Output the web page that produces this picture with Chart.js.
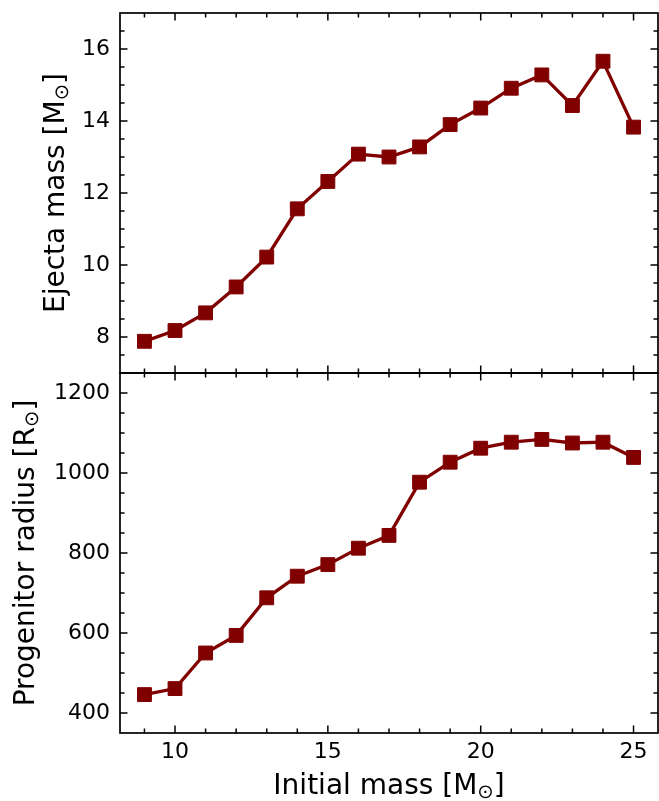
<!DOCTYPE html>
<html>
<head>
<meta charset="utf-8">
<script src="https://cdn.jsdelivr.net/npm/chart.js@4.4.1/dist/chart.umd.min.js"></script>
<style>
  html, body { margin: 0; padding: 0; background: #fff; }
  #wrap { position: relative; width: 659px; height: 801px; }
  #wrap canvas { position: absolute; left: 0; top: 0; }
</style>
</head>
<body>
<div id="wrap">
  <canvas id="ejectaChart" width="659" height="801"></canvas>
  <canvas id="radiusChart" width="659" height="801"></canvas>
</div>
<script>
// values
const initialMass = [9, 10, 11, 12, 13, 14, 15, 16, 17, 18, 19, 20, 21, 22, 23, 24, 25];
const ejectaMass = [7.88, 8.18, 8.67, 9.39, 10.22, 11.56, 12.32, 13.08, 13.0, 13.28, 13.9, 14.36, 14.91, 15.28, 14.43, 15.66, 13.83];
const progenitorRadius = [446, 461, 550, 594, 688, 742, 771, 812, 844, 977, 1027, 1062, 1077, 1084, 1075, 1077, 1039];

const massTicks = [10, 15, 20, 25];
const ejectaTicks = [8, 10, 12, 14, 16];
const radiusTicks = [400, 600, 800, 1000, 1200];

const FONT = "'DejaVu Sans', sans-serif";
const LINE_COLOR = '#800000';

function minorsBetween(from, to, step, majors) {
    const out = [];
    for (let v = from; v <= to + 1e-9; v += step) {
        const r = Math.round(v * 100) / 100;
        if (!majors.includes(r)) out.push(r);
    }
    return out;
}

// scales must not push the plot area around
function noPadding(s) {
    s.paddingTop = 0;
    s.paddingBottom = 0;
    s.paddingLeft = 0;
    s.paddingRight = 0;
}

// inward ticks on all four sides + the box
const frameTicks = {
    id: 'frameTicks',
    afterDraw(chart, args, opts) {
        const { ctx, chartArea: a, scales } = chart;
        const xs = scales.x, ys = scales.y;
        ctx.save();
        ctx.strokeStyle = '#000';
        ctx.lineWidth = 1.5;
        const drawX = (vals, len) => vals.forEach(v => {
            const px = xs.getPixelForValue(v);
            ctx.beginPath();
            ctx.moveTo(px, a.bottom); ctx.lineTo(px, a.bottom - len);
            ctx.moveTo(px, a.top); ctx.lineTo(px, a.top + len);
            ctx.stroke();
        });
        const drawY = (vals, len) => vals.forEach(v => {
            const py = ys.getPixelForValue(v);
            ctx.beginPath();
            ctx.moveTo(a.left, py); ctx.lineTo(a.left + len, py);
            ctx.moveTo(a.right, py); ctx.lineTo(a.right - len, py);
            ctx.stroke();
        });
        drawX(opts.xMajor, 7.5);
        drawX(opts.xMinor, 4.5);
        drawY(opts.yMajor, 7.5);
        drawY(opts.yMinor, 4.5);
        ctx.lineWidth = 1.7;
        ctx.strokeRect(a.left, a.top, a.right - a.left, a.bottom - a.top);
        ctx.restore();
    }
};

// axis titles with a small sun-symbol subscript
function drawSubLabel(ctx, x, y, rot, main, sub, tail, size) {
    const subSize = size * 0.7;
    ctx.save();
    ctx.translate(x, y);
    ctx.rotate(rot);
    ctx.fillStyle = '#000';
    ctx.textBaseline = 'alphabetic';
    ctx.textAlign = 'left';
    ctx.font = size + 'px ' + FONT;
    const w1 = ctx.measureText(main).width;
    const w3 = ctx.measureText(tail).width;
    ctx.font = subSize + 'px ' + FONT;
    const w2 = ctx.measureText(sub).width;
    let cx = -(w1 + w2 + w3) / 2;
    ctx.font = size + 'px ' + FONT;
    ctx.fillText(main, cx, 0);
    cx += w1;
    ctx.font = subSize + 'px ' + FONT;
    ctx.fillText(sub, cx, size * 0.17);
    cx += w2;
    ctx.font = size + 'px ' + FONT;
    ctx.fillText(tail, cx, 0);
    ctx.restore();
}

const axisTitles = {
    id: 'axisTitles',
    afterDraw(chart, args, opts) {
        const a = chart.chartArea;
        const ctx = chart.ctx;
        if (opts.y) {
            drawSubLabel(ctx, opts.y.baseX, (a.top + a.bottom) / 2, -Math.PI / 2,
                opts.y.main, '\u2299', ']', 28);
        }
        if (opts.x) {
            drawSubLabel(ctx, (a.left + a.right) / 2, opts.x.baseY, 0,
                opts.x.main, '\u2299', ']', 28);
        }
    }
};

function lineDataset(values) {
    return {
        data: initialMass.map((m, i) => ({ x: m, y: values[i] })),
        borderColor: LINE_COLOR,
        backgroundColor: LINE_COLOR,
        borderWidth: 3.3,
        pointStyle: 'rect',
        pointRadius: 9.8,
        pointBorderWidth: 1,
        pointBorderColor: LINE_COLOR,
        pointBackgroundColor: LINE_COLOR,
        tension: 0,
        clip: false
    };
}

function yAxis(min, max, ticks) {
    return {
        type: 'linear',
        min: min,
        max: max,
        afterBuildTicks: s => { s.ticks = ticks.map(v => ({ value: v })); },
        afterFit: s => { s.width = 120; noPadding(s); },
        grid: { display: false, drawTicks: false },
        border: { display: false },
        ticks: {
            color: '#000',
            padding: 10,
            font: { family: FONT, size: 22 },
            callback: v => String(v)
        }
    };
}

const xMinor = minorsBetween(9, 25, 1, massTicks);

new Chart(document.getElementById('ejectaChart'), {
    type: 'line',
    data: { datasets: [lineDataset(ejectaMass)] },
    options: {
        responsive: false,
        animation: false,
        layout: { autoPadding: false, padding: { top: 13, bottom: 428, left: 0, right: 1 } },
        scales: {
            x: { type: 'linear', min: 8.2, max: 25.8, display: false, afterFit: noPadding },
            y: yAxis(7, 17, ejectaTicks)
        },
        plugins: {
            legend: { display: false },
            tooltip: { enabled: false },
            frameTicks: {
                xMajor: massTicks, xMinor: xMinor,
                yMajor: ejectaTicks, yMinor: minorsBetween(7.5, 16.5, 0.5, ejectaTicks)
            },
            axisTitles: { y: { main: 'Ejecta mass [M', baseX: 63.5 } }
        }
    },
    plugins: [frameTicks, axisTitles]
});

new Chart(document.getElementById('radiusChart'), {
    type: 'line',
    data: { datasets: [lineDataset(progenitorRadius)] },
    options: {
        responsive: false,
        animation: false,
        layout: { autoPadding: false, padding: { top: 373, bottom: 0, left: 0, right: 1 } },
        scales: {
            x: {
                type: 'linear',
                min: 8.2,
                max: 25.8,
                afterBuildTicks: s => { s.ticks = massTicks.map(v => ({ value: v })); },
                afterFit: s => { s.height = 68; noPadding(s); },
                grid: { display: false, drawTicks: false },
                border: { display: false },
                ticks: {
                    color: '#000',
                    padding: 6,
                    maxRotation: 0,
                    font: { family: FONT, size: 22 },
                    callback: v => String(v)
                }
            },
            y: yAxis(350, 1250, radiusTicks)
        },
        plugins: {
            legend: { display: false },
            tooltip: { enabled: false },
            frameTicks: {
                xMajor: massTicks, xMinor: xMinor,
                yMajor: radiusTicks, yMinor: minorsBetween(400, 1200, 50, radiusTicks)
            },
            axisTitles: {
                y: { main: 'Progenitor radius [R', baseX: 33.5 },
                x: { main: 'Initial mass [M', baseY: 793.5 }
            }
        }
    },
    plugins: [frameTicks, axisTitles]
});
</script>
</body>
</html>
